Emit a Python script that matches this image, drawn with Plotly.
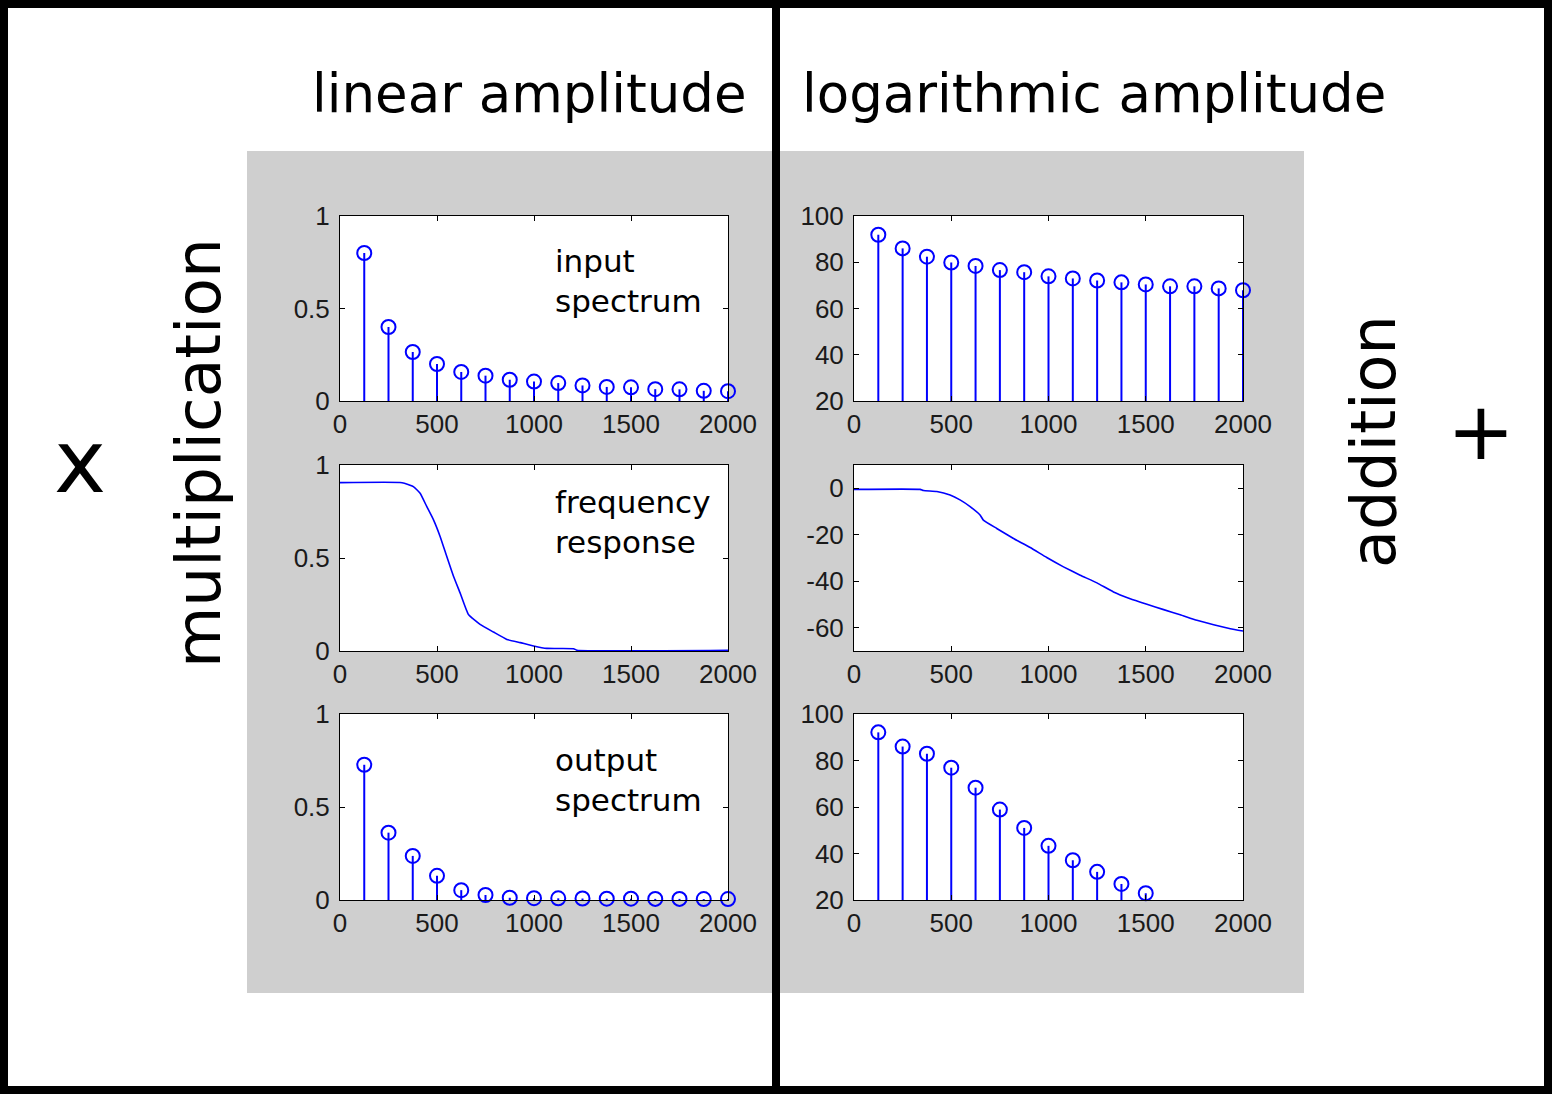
import plotly.graph_objects as go

W, H = 1552, 1094

# ---------------- data ----------------
freq = [125, 250, 375, 500, 625, 750, 875, 1000, 1125, 1250, 1375, 1500, 1625, 1750, 1875, 2000]
input_lin = [0.80, 0.40, 0.265, 0.20, 0.157, 0.137, 0.115, 0.105, 0.097, 0.084, 0.076, 0.074, 0.064, 0.063, 0.055, 0.053]
output_lin = [0.727, 0.362, 0.237, 0.130, 0.053, 0.027, 0.012, 0.010, 0.009, 0.008, 0.007, 0.007, 0.006, 0.006, 0.005, 0.005]
input_db = [91.9, 86.0, 82.4, 79.9, 78.4, 76.6, 75.7, 73.9, 73.0, 72.1, 71.3, 70.4, 69.6, 69.6, 68.7, 67.9]
freq_out_db = [125, 250, 375, 500, 625, 750, 875, 1000, 1125, 1250, 1375, 1500]
output_db = [92.1, 86.0, 82.9, 76.9, 68.3, 58.9, 51.0, 43.3, 37.1, 32.1, 26.9, 22.9]

resp_f = [0, 320, 378, 413, 447, 482, 516, 550, 585, 619, 662, 722, 791, 860, 929, 998, 1066, 1204, 1221, 2000]
resp_lin = [0.905, 0.905, 0.884, 0.848, 0.777, 0.705, 0.616, 0.509, 0.402, 0.3125, 0.196, 0.143, 0.102, 0.0625,
            0.045, 0.027, 0.014, 0.0125, 0.004, 0.004]
resp_db_f = [0, 340, 357, 426, 494, 545, 597, 648, 665, 734, 820, 906, 991, 1077, 1163, 1249, 1334, 1420, 1506,
             1592, 1677, 1763, 1849, 1935, 2000]
resp_db = [-0.5, -0.5, -1.0, -1.4, -2.9, -5.0, -7.9, -11.5, -13.7, -17.3, -21.6, -25.5, -29.8, -33.8, -37.4,
           -40.7, -44.6, -47.5, -49.9, -52.2, -54.4, -56.8, -58.7, -60.4, -61.4]

x_ticks = [0, 500, 1000, 1500, 2000]
x_ticktext = ["0", "500", "1000", "1500", "2000"]
lin_ticks = [0, 0.5, 1]
lin_ticktext = ["0", "0.5", "1"]
db_ticks = [20, 40, 60, 80, 100]
resp_db_ticks = [-60, -40, -20, 0]

column_titles = ["linear amplitude", "logarithmic amplitude"]
row_labels = ["input<br>spectrum", "frequency<br>response", "output<br>spectrum"]
side_labels = ["multiplication", "addition"]
operators = ["x", "+"]

BLUE = "rgb(0,0,255)"
TXT_FONT = "DejaVu Sans, Verdana, sans-serif"
TICK_FONT = "Liberation Sans, Arial, sans-serif"


def px(x):
    return x / W


def py(y):
    return 1 - y / H


fig = go.Figure()

cols = [(340, 728), (854, 1243)]
rows = [(216, 401), (465, 651), (714, 900)]


def add_stem(xs, ys, base, ax):
    sx, sy = [], []
    for xv, yv in zip(xs, ys):
        sx += [xv, xv, None]
        sy += [base, yv, None]
    fig.add_trace(go.Scatter(x=sx, y=sy, mode="lines", line=dict(color=BLUE, width=2),
                             xaxis="x" + ax, yaxis="y" + ax, hoverinfo="skip", showlegend=False))
    fig.add_trace(go.Scatter(x=xs, y=ys, mode="markers", cliponaxis=False,
                             marker=dict(symbol="circle-open", size=14, color=BLUE, line=dict(width=2, color=BLUE)),
                             xaxis="x" + ax, yaxis="y" + ax, showlegend=False))


add_stem(freq, input_lin, 0, "1")
fig.add_trace(go.Scatter(x=resp_f, y=resp_lin, mode="lines", line=dict(color=BLUE, width=1.6, shape="spline", smoothing=0.4),
                         xaxis="x2", yaxis="y2", showlegend=False))
add_stem(freq, output_lin, 0, "3")
add_stem(freq, input_db, 0, "4")
fig.add_trace(go.Scatter(x=resp_db_f, y=resp_db, mode="lines", line=dict(color=BLUE, width=1.6, shape="spline", smoothing=0.4),
                         xaxis="x5", yaxis="y5", showlegend=False))
add_stem(freq_out_db, output_db, 0, "6")

layout_axes = {}
white_bg = []
idx = 1
for ci, (xl, xr) in enumerate(cols):
    for ri, (yt, yb) in enumerate(rows):
        n = str(idx)
        if ci == 0:
            yrange, yt_vals, yt_text = [0, 1], lin_ticks, lin_ticktext
        else:
            if ri == 1:
                yrange, yt_vals, yt_text = [-70, 10], resp_db_ticks, [str(v) for v in resp_db_ticks]
            else:
                yrange, yt_vals, yt_text = [20, 100], db_ticks, [str(v) for v in db_ticks]
        common = dict(showline=True, linecolor="black", linewidth=1, mirror="ticks", ticks="inside",
                      ticklen=5, tickcolor="black", showgrid=False, zeroline=False, automargin=False,
                      tickfont=dict(family=TICK_FONT, size=26, color="#1a1a1a"), fixedrange=True)
        layout_axes["xaxis" + ("" if n == "1" else n)] = dict(
            domain=[px(xl), px(xr)], anchor="y" + n, range=[0, 2000],
            tickvals=x_ticks, ticktext=x_ticktext, **common)
        layout_axes["yaxis" + ("" if n == "1" else n)] = dict(
            domain=[py(yb), py(yt)], anchor="x" + n, range=yrange,
            tickvals=yt_vals, ticktext=yt_text, ticklabelstandoff=4, **common)
        white_bg.append(dict(type="rect", xref="paper", yref="paper",
                             x0=px(xl), x1=px(xr), y0=py(yb), y1=py(yt),
                             fillcolor="white", line=dict(width=0), layer="below"))
        idx += 1


def ann(x, y, text, size, **kw):
    d = dict(x=px(x), y=py(y), xref="paper", yref="paper", text=text, showarrow=False,
             xanchor="center", yanchor="middle", font=dict(family=TXT_FONT, size=size, color="black"))
    d.update(kw)
    return d


annotations = [
    ann(529, 94, column_titles[0], 53),
    ann(1094, 94, column_titles[1], 53),
]
for (yc, label) in zip([281, 522, 780], row_labels):
    annotations.append(ann(553, yc, label, 31, xanchor="left", align="left"))
annotations.append(ann(198, 453, side_labels[0], 63, textangle=-90))
annotations.append(ann(1374, 442, side_labels[1], 62, textangle=-90))
annotations.append(ann(80, 461, operators[0], 88))
annotations.append(ann(1481, 431, operators[1], 81))

shapes = [
    dict(type="rect", xref="paper", yref="paper", x0=px(247), x1=px(1304), y0=py(993), y1=py(151),
         fillcolor="#cfcfcf", line=dict(width=0), layer="below"),
] + white_bg + [
    dict(type="rect", xref="paper", yref="paper", x0=px(4), x1=px(1548), y0=py(1090), y1=py(4),
         line=dict(color="black", width=8), fillcolor="rgba(0,0,0,0)", layer="above"),
    dict(type="rect", xref="paper", yref="paper", x0=px(772), x1=px(780), y0=py(1094), y1=py(0),
         fillcolor="black", line=dict(width=0), layer="above"),
]

fig.update_layout(width=W, height=H, autosize=False,
                  margin=dict(l=0, r=0, t=0, b=0, pad=0, autoexpand=False),
                  paper_bgcolor="white", plot_bgcolor="white", showlegend=False,
                  annotations=annotations, shapes=shapes, **layout_axes)

fig.write_html("out.html", config={"displayModeBar": False, "responsive": False},
               post_script="document.body.style.margin='0';document.body.style.overflow='hidden';")
